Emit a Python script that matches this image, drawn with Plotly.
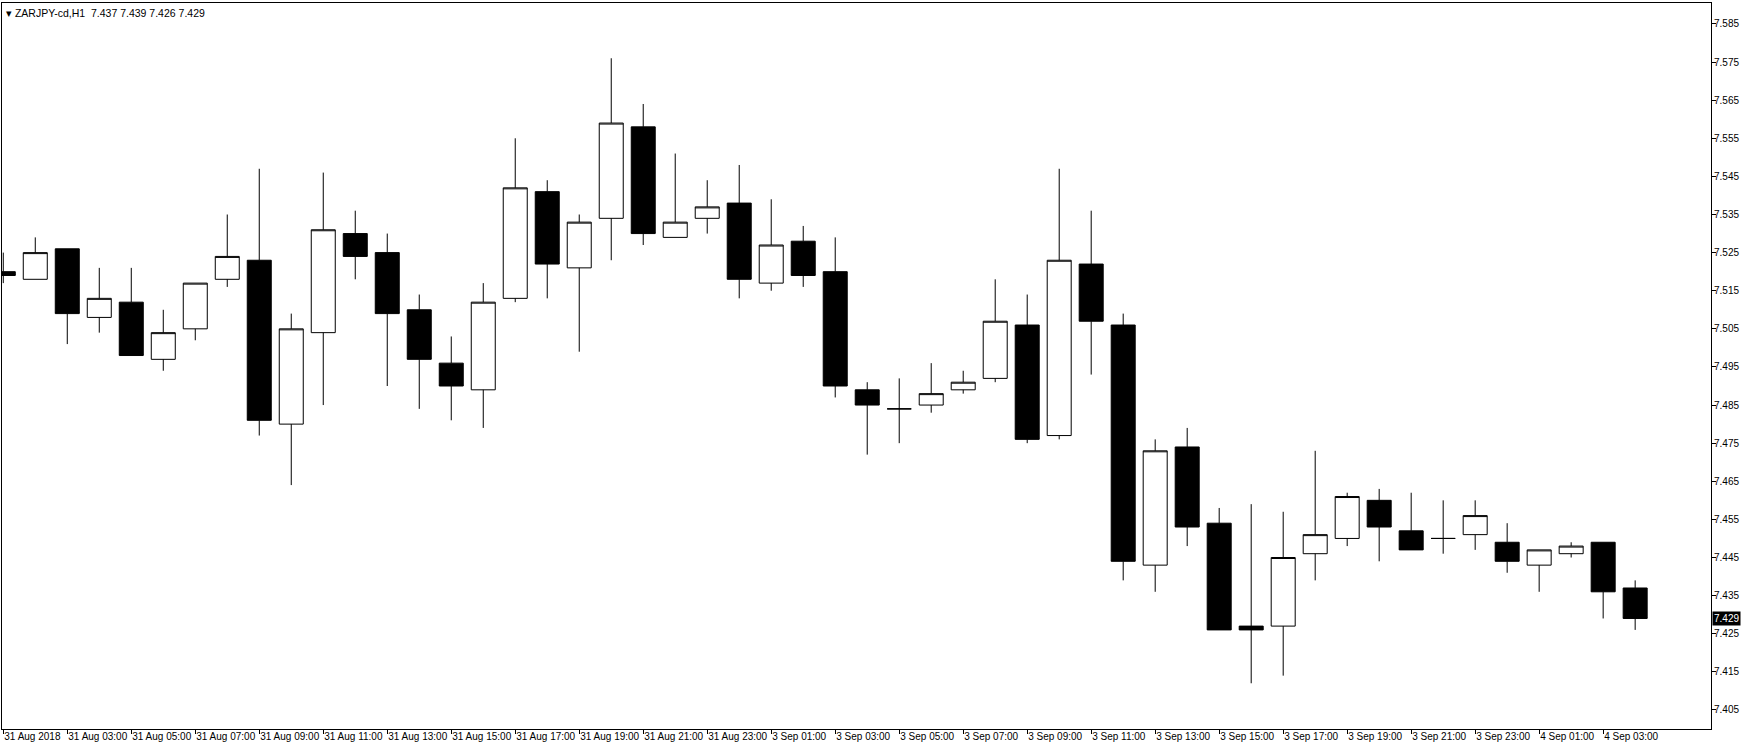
import plotly.graph_objects as go

symbol_title = "ZARJPY-cd,H1"
last_ohlc_text = "7.437 7.439 7.426 7.429"
last_price = 7.429

# H1 bars from 31 Aug 2018 01:00 to 4 Sep 2018 04:00 (weekend skipped)
open_ = [7.520, 7.518, 7.526, 7.508, 7.512, 7.497, 7.505, 7.518, 7.523, 7.480,
         7.504, 7.530, 7.525, 7.510, 7.496, 7.489, 7.513, 7.541, 7.521, 7.534,
         7.558, 7.529, 7.534, 7.538, 7.517, 7.528, 7.520, 7.489, 7.484, 7.485,
         7.489, 7.492, 7.506, 7.477, 7.522, 7.506, 7.443, 7.474, 7.454, 7.427,
         7.427, 7.446, 7.450, 7.460, 7.452, 7.450, 7.451, 7.449, 7.443, 7.446,
         7.449, 7.437]
high = [7.525, 7.529, 7.526, 7.521, 7.521, 7.510, 7.517, 7.535, 7.547, 7.509,
        7.546, 7.536, 7.530, 7.514, 7.503, 7.517, 7.555, 7.544, 7.535, 7.576,
        7.564, 7.551, 7.544, 7.548, 7.539, 7.532, 7.529, 7.491, 7.492, 7.496,
        7.494, 7.518, 7.514, 7.547, 7.536, 7.509, 7.476, 7.479, 7.458, 7.459,
        7.457, 7.473, 7.462, 7.463, 7.462, 7.460, 7.460, 7.454, 7.447, 7.449,
        7.449, 7.439]
low = [7.517, 7.518, 7.501, 7.504, 7.498, 7.494, 7.502, 7.516, 7.477, 7.464,
       7.485, 7.518, 7.490, 7.484, 7.481, 7.479, 7.512, 7.513, 7.499, 7.523,
       7.527, 7.529, 7.530, 7.513, 7.515, 7.516, 7.487, 7.472, 7.475, 7.483,
       7.488, 7.491, 7.475, 7.476, 7.493, 7.439, 7.436, 7.448, 7.426, 7.412,
       7.414, 7.439, 7.448, 7.444, 7.447, 7.446, 7.447, 7.441, 7.436, 7.445,
       7.429, 7.426]
close = [7.519, 7.525, 7.509, 7.513, 7.498, 7.504, 7.517, 7.524, 7.481, 7.505,
         7.531, 7.524, 7.509, 7.497, 7.490, 7.512, 7.542, 7.522, 7.533, 7.559,
         7.530, 7.533, 7.537, 7.518, 7.527, 7.519, 7.490, 7.485, 7.484, 7.488,
         7.491, 7.507, 7.476, 7.523, 7.507, 7.444, 7.473, 7.453, 7.426, 7.426,
         7.445, 7.451, 7.461, 7.453, 7.447, 7.450, 7.456, 7.444, 7.447, 7.448,
         7.436, 7.429]

bar_index = list(range(len(open_)))

x_tick_index = [0, 2, 4, 6, 8, 10, 12, 14, 16, 18, 20, 22,
                24, 26, 28, 30, 32, 34, 36, 38, 40, 42, 44, 46,
                48, 50]
x_tick_labels = ["31 Aug 2018", "31 Aug 03:00", "31 Aug 05:00", "31 Aug 07:00",
                 "31 Aug 09:00", "31 Aug 11:00", "31 Aug 13:00", "31 Aug 15:00",
                 "31 Aug 17:00", "31 Aug 19:00", "31 Aug 21:00", "31 Aug 23:00",
                 "3 Sep 01:00", "3 Sep 03:00", "3 Sep 05:00", "3 Sep 07:00",
                 "3 Sep 09:00", "3 Sep 11:00", "3 Sep 13:00", "3 Sep 15:00",
                 "3 Sep 17:00", "3 Sep 19:00", "3 Sep 21:00", "3 Sep 23:00",
                 "4 Sep 01:00", "4 Sep 03:00"]

y_tick_values = [7.405, 7.415, 7.425, 7.435, 7.445, 7.455, 7.465, 7.475, 7.485,
                 7.495, 7.505, 7.515, 7.525, 7.535, 7.545, 7.555, 7.565, 7.575,
                 7.585]
y_tick_labels = ["%.3f" % v for v in y_tick_values]

FONT = "Liberation Sans, Arial, sans-serif"

fig = go.Figure()
fig.add_trace(go.Candlestick(
    x=bar_index, open=open_, high=high, low=low, close=close,
    increasing=dict(line=dict(color="black", width=1), fillcolor="white"),
    decreasing=dict(line=dict(color="black", width=1), fillcolor="black"),
    whiskerwidth=0,
    showlegend=False,
    hoverinfo="skip",
))

fig.update_layout(
    width=1750, height=750,
    margin=dict(l=2, r=39, t=3, b=21),
    paper_bgcolor="white", plot_bgcolor="white",
    boxgap=0.25, boxgroupgap=0,
    font=dict(family=FONT, size=10, color="black"),
    xaxis=dict(
        range=[-0.04, 53.37],
        rangeslider=dict(visible=False),
        tickmode="array", tickvals=x_tick_index, ticktext=x_tick_labels,
        ticks="outside", ticklen=4, tickwidth=1, tickcolor="black",
        ticklabelposition="outside right", tickangle=0,
        ticklabelstandoff=-2,
        showgrid=False, zeroline=False,
        showline=True, linecolor="black", linewidth=1, mirror=True,
        tickfont=dict(family=FONT, size=10, color="black"),
    ),
    yaxis=dict(
        range=[7.4000, 7.5905],
        side="right",
        tickmode="array", tickvals=y_tick_values, ticktext=y_tick_labels,
        ticks="outside", ticklen=4, tickwidth=1, tickcolor="black",
        ticklabelstandoff=-4,
        showgrid=False, zeroline=False,
        showline=True, linecolor="black", linewidth=1, mirror=True,
        tickfont=dict(family=FONT, size=10, color="black"),
    ),
)

# chart header (symbol, timeframe, last bar OHLC)
fig.add_annotation(
    xref="paper", yref="paper", x=0, y=1, xanchor="left", yanchor="top",
    xshift=2, yshift=-2,
    text="\u25BE " + symbol_title + "\u00a0\u00a0" + last_ohlc_text,
    showarrow=False, font=dict(family=FONT, size=10.5, color="black"),
)

# current price marker on the price scale
fig.add_annotation(
    xref="paper", yref="y", x=1, y=last_price, xanchor="left", yanchor="middle",
    xshift=1, text="%.3f" % last_price, showarrow=False,
    bgcolor="black", borderpad=1,
    font=dict(family=FONT, size=10, color="white"),
)

fig.write_html(
    "out.html",
    config={"displayModeBar": False},
    post_script="document.body.style.margin='0';document.body.style.overflow='hidden';",
)
